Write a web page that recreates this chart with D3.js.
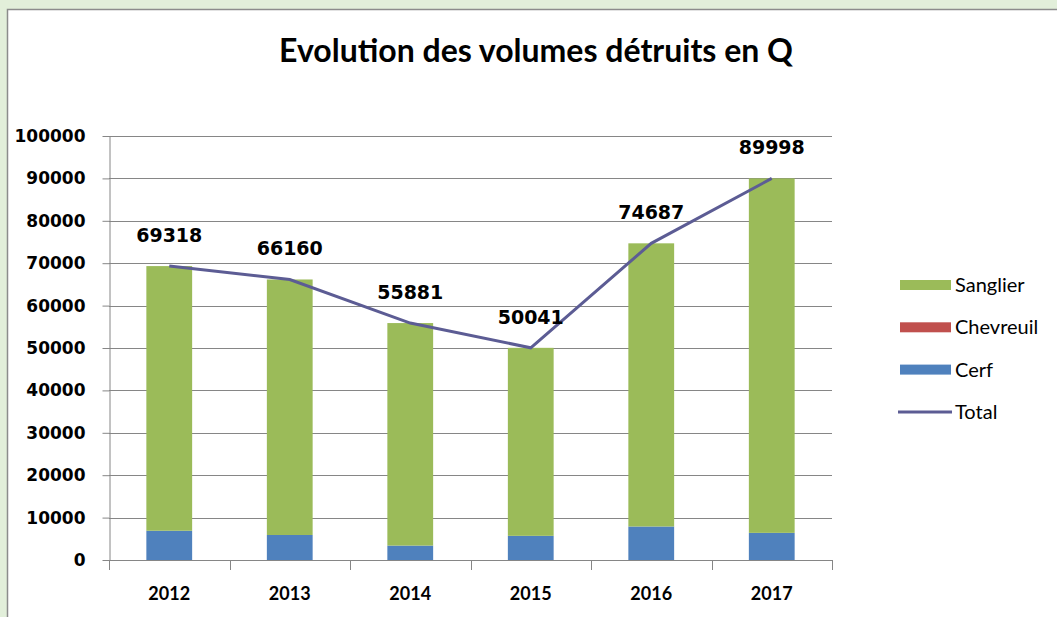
<!DOCTYPE html>
<html>
<head>
<meta charset="utf-8">
<script src="https://cdn.jsdelivr.net/npm/d3@7"></script>
<style>
  body { margin: 0; background: #e2efda; }
  svg { display: block; font-family: Lato, "Open Sans", sans-serif; }
</style>
</head>
<body>
<div id="chart"></div>
<script>
// data
const years = ["2012", "2013", "2014", "2015", "2016", "2017"];
const cerf = [6900, 5900, 3400, 5700, 7900, 6400];
const chevreuil = [0, 0, 0, 0, 0, 0];
const total = [69318, 66160, 55881, 50041, 74687, 89998];
const sanglier = [62418, 60260, 52481, 44341, 66787, 83598];
const yTicks = [0, 10000, 20000, 30000, 40000, 50000, 60000, 70000, 80000, 90000, 100000];

const seriesNames = ["Cerf", "Chevreuil", "Sanglier"];
const colors = { Cerf: "#4f81bd", Chevreuil: "#c0504d", Sanglier: "#9bbb59" };

(() => {
    const W = 1057, H = 617;
    const svg = d3.select('#chart')
        .append('svg')
        .attr('width', W)
        .attr('height', H);

    // chart box
    svg.append('rect')
        .attr('x', 7.5).attr('y', 9.5)
        .attr('width', W).attr('height', H)
        .attr('fill', '#fff')
        .attr('stroke', '#8c8c8c')
        .attr('stroke-width', 1.5);

    svg.append('text')
        .attr('x', 536).attr('y', 62)
        .attr('text-anchor', 'middle')
        .style('font-size', '32px')
        .style('font-weight', 'bold')
        .text('Evolution des volumes détruits en Q');

    const left = 109, right = 832, plotTop = 136, bottom = 560;

    const xScale = d3.scaleBand()
        .domain(years)
        .range([left, right])
        .paddingInner(0.62)
        .paddingOuter(0.31);

    const yScale = d3.scaleLinear()
        .domain([0, 100000])
        .range([bottom, plotTop]);

    // gridlines
    svg.append('g')
        .selectAll('line')
        .data(yTicks.slice(1))
        .enter()
        .append('line')
        .attr('x1', left).attr('x2', right)
        .attr('y1', d => Math.round(yScale(d)) + 0.5)
        .attr('y2', d => Math.round(yScale(d)) + 0.5)
        .attr('stroke', '#868686');

    // stacked bars
    const table = years.map((y, i) => ({ year: y, Cerf: cerf[i], Chevreuil: chevreuil[i], Sanglier: sanglier[i] }));
    const stacked = d3.stack().keys(seriesNames)(table);

    svg.append('g')
        .selectAll('g')
        .data(stacked)
        .enter()
        .append('g')
        .attr('fill', d => colors[d.key])
        .selectAll('rect')
        .data(d => d)
        .enter()
        .append('rect')
        .attr('x', d => xScale(d.data.year))
        .attr('y', d => yScale(d[1]))
        .attr('width', xScale.bandwidth())
        .attr('height', d => yScale(d[0]) - yScale(d[1]));

    // y axis
    const yAxis = svg.append('g')
        .attr('transform', `translate(${left + 0.5},0)`)
        .call(d3.axisLeft(yScale).tickValues(yTicks).tickSize(7).tickSizeOuter(0).tickPadding(17).tickFormat(d3.format('d')));
    yAxis.selectAll('text')
        .style('font-family', '"DejaVu Sans", sans-serif')
        .style('font-size', '17px')
        .style('font-weight', 'bold')
        .attr('fill', '#000');
    yAxis.selectAll('line, path').attr('stroke', '#868686');

    // x axis
    const xTicks = d3.range(years.length + 1).map(i => left + i * (right - left) / years.length);
    const xAxis = svg.append('g');
    xAxis.append('line')
        .attr('x1', left).attr('x2', right)
        .attr('y1', bottom + 0.5).attr('y2', bottom + 0.5)
        .attr('stroke', '#868686');
    xAxis.selectAll('line.tick')
        .data(xTicks)
        .enter()
        .append('line')
        .attr('class', 'tick')
        .attr('x1', d => Math.round(d) + 0.5).attr('x2', d => Math.round(d) + 0.5)
        .attr('y1', bottom).attr('y2', bottom + 10)
        .attr('stroke', '#868686');
    xAxis.selectAll('text')
        .data(years)
        .enter()
        .append('text')
        .attr('x', d => xScale(d) + xScale.bandwidth() / 2)
        .attr('y', 600)
        .attr('text-anchor', 'middle')
        .style('font-size', '18px')
        .style('font-weight', 'bold')
        .text(d => d);

    // total line
    const cx = (d, i) => xScale(years[i]) + xScale.bandwidth() / 2;
    svg.append('path')
        .datum(total)
        .attr('fill', 'none')
        .attr('stroke', '#5c5c94')
        .attr('stroke-width', 3)
        .attr('d', d3.line().x(cx).y(d => yScale(d)));

    svg.append('g')
        .selectAll('text')
        .data(total)
        .enter()
        .append('text')
        .attr('x', cx)
        .attr('y', d => yScale(d) - 24)
        .attr('text-anchor', 'middle')
        .style('font-family', '"DejaVu Sans", sans-serif')
        .style('font-size', '19px')
        .style('font-weight', 'bold')
        .text(d => d);

    // legend
    const legendItems = ["Sanglier", "Chevreuil", "Cerf", "Total"];
    const legend = svg.append('g')
        .selectAll('g')
        .data(legendItems)
        .enter()
        .append('g')
        .attr('transform', (d, i) => `translate(900,${285 + i * 42.3})`);

    legend.filter(d => d !== 'Total')
        .append('rect')
        .attr('x', 0).attr('y', -5)
        .attr('width', 51).attr('height', 10)
        .attr('fill', d => colors[d]);
    legend.filter(d => d === 'Total')
        .append('line')
        .attr('x1', -2).attr('x2', 52)
        .attr('stroke', '#5c5c94')
        .attr('stroke-width', 3);
    legend.append('text')
        .attr('x', 55).attr('y', 7)
        .style('font-size', '20px')
        .text(d => d);
})();
</script>
</body>
</html>
